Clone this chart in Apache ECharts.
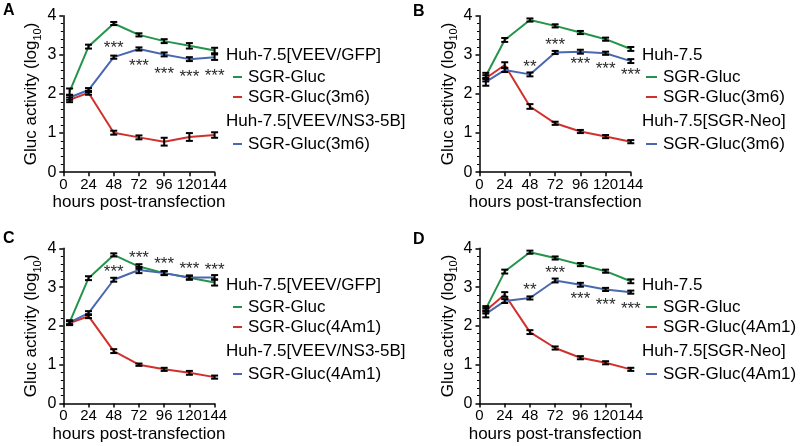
<!DOCTYPE html>
<html><head><meta charset="utf-8">
<script src="https://cdn.jsdelivr.net/npm/echarts@6/dist/echarts.min.js"></script>
<style>html,body{margin:0;padding:0;background:#fff}#c{width:800px;height:446px}</style>
</head><body><div id="c"></div>
<script>
// ---------- data ----------
const hours = [6, 24, 48, 72, 96, 120, 144];
const xTicks = [0, 24, 48, 72, 96, 120, 144];
const yTicks = [0, 1, 2, 3, 4];
const panelLetters = ['A', 'B', 'C', 'D'];
const xTitle = 'hours post-transfection';
const yTitle = ['Gluc activity (log', '10', ')'];

// Panel A
const A_green = [2.06, 3.21, 3.80, 3.51, 3.35, 3.23, 3.11];
const A_red   = [1.85, 2.03, 1.01, 0.89, 0.78, 0.90, 0.95];
const A_blue  = [1.91, 2.10, 2.94, 3.15, 3.01, 2.89, 2.94];
const A_greenErr = [0.08, 0.05, 0.04, 0.04, 0.05, 0.07, 0.07];
const A_redErr   = [0.06, 0.05, 0.05, 0.05, 0.10, 0.10, 0.07];
const A_blueErr  = [0.06, 0.05, 0.04, 0.04, 0.05, 0.05, 0.07];
const A_stars = [[48, 3.27, '***'], [72, 2.80, '***'], [96, 2.61, '***'], [120, 2.54, '***'], [144, 2.55, '***']];
const A_legend = ['Huh-7.5[VEEV/GFP]', 'SGR-Gluc', 'SGR-Gluc(3m6)', 'Huh-7.5[VEEV/NS3-5B]', 'SGR-Gluc(3m6)'];

// Panel B
const B_green = [2.46, 3.38, 3.89, 3.74, 3.57, 3.40, 3.15];
const B_red   = [2.40, 2.74, 1.68, 1.25, 1.04, 0.91, 0.78];
const B_blue  = [2.31, 2.61, 2.50, 3.06, 3.08, 3.04, 2.84];
const B_greenErr = [0.08, 0.05, 0.04, 0.04, 0.04, 0.04, 0.05];
const B_redErr   = [0.08, 0.07, 0.06, 0.04, 0.04, 0.04, 0.04];
const B_blueErr  = [0.10, 0.05, 0.05, 0.04, 0.05, 0.04, 0.05];
const B_stars = [[48, 2.78, '**'], [72, 3.34, '***'], [96, 2.87, '***'], [120, 2.74, '***'], [144, 2.57, '***']];
const B_legend = ['Huh-7.5', 'SGR-Gluc', 'SGR-Gluc(3m6)', 'Huh-7.5[SGR-Neo]', 'SGR-Gluc(3m6)'];

// Panel C
const C_green = [2.09, 3.23, 3.83, 3.53, 3.36, 3.24, 3.12];
const C_red   = [2.07, 2.25, 1.35, 1.00, 0.88, 0.79, 0.68];
const C_blue  = [2.09, 2.33, 3.19, 3.44, 3.36, 3.25, 3.25];
const C_greenErr = [0.05, 0.05, 0.04, 0.06, 0.05, 0.05, 0.08];
const C_redErr   = [0.05, 0.05, 0.05, 0.03, 0.04, 0.05, 0.04];
const C_blueErr  = [0.05, 0.05, 0.05, 0.08, 0.05, 0.05, 0.06];
const C_stars = [[48, 3.49, '***'], [72, 3.84, '***'], [96, 3.68, '***'], [120, 3.55, '***'], [144, 3.53, '***']];
const C_legend = ['Huh-7.5[VEEV/GFP]', 'SGR-Gluc', 'SGR-Gluc(4Am1)', 'Huh-7.5[VEEV/NS3-5B]', 'SGR-Gluc(4Am1)'];

// Panel D
const D_green = [2.44, 3.40, 3.90, 3.75, 3.58, 3.41, 3.15];
const D_red   = [2.39, 2.81, 1.84, 1.43, 1.18, 1.05, 0.88];
const D_blue  = [2.31, 2.64, 2.72, 3.17, 3.06, 2.94, 2.87];
const D_greenErr = [0.07, 0.05, 0.04, 0.04, 0.04, 0.04, 0.05];
const D_redErr   = [0.07, 0.06, 0.05, 0.04, 0.04, 0.04, 0.04];
const D_blueErr  = [0.09, 0.05, 0.04, 0.05, 0.05, 0.04, 0.04];
const D_stars = [[48, 3.01, '**'], [72, 3.45, '***'], [96, 2.80, '***'], [120, 2.63, '***'], [144, 2.54, '***']];
const D_legend = ['Huh-7.5', 'SGR-Gluc', 'SGR-Gluc(4Am1)', 'Huh-7.5[SGR-Neo]', 'SGR-Gluc(4Am1)'];

// ---------- styles / layout ----------
const FONT = '"Liberation Sans", Arial, Helvetica, sans-serif';
const GREEN = '#23944a', RED = '#d0312d', BLUE = '#4a68b0';
const panels = [
  { g: A_green, r: A_red, b: A_blue, ge: A_greenErr, re: A_redErr, be: A_blueErr, stars: A_stars, legend: A_legend,
    left: 63.3, top: 15.7, height: 156.5, lx: 226, dash: [233, 242], tx: 248, ly: 0, letter: [3, 11] },
  { g: B_green, r: B_red, b: B_blue, ge: B_greenErr, re: B_redErr, be: B_blueErr, stars: B_stars, legend: B_legend,
    left: 479.5, top: 15.7, height: 156.5, lx: 642, dash: [646, 657], tx: 663, ly: 0, letter: [413, 12] },
  { g: C_green, r: C_red, b: C_blue, ge: C_greenErr, re: C_redErr, be: C_blueErr, stars: C_stars, legend: C_legend,
    left: 63.3, top: 248.3, height: 155.2, lx: 226, dash: [233, 242], tx: 248, ly: 230, letter: [3, 239] },
  { g: D_green, r: D_red, b: D_blue, ge: D_greenErr, re: D_redErr, be: D_blueErr, stars: D_stars, legend: D_legend,
    left: 479.5, top: 248.3, height: 155.2, lx: 642, dash: [646, 657], tx: 663, ly: 230, letter: [413, 240] }
];
const PW = 151.3;
const legendRows = [55, 77, 97, 121, 144];
const legendColors = [null, GREEN, RED, null, BLUE];

const grid = [], xAxis = [], yAxis = [], series = [], graphic = [];

function errRender(params, api) {
  const x = api.value(0);
  const lo = api.coord([x, api.value(1)]);
  const hi = api.coord([x, api.value(2)]);
  const w = 3.5;
  const st = { stroke: '#000', lineWidth: 2 };
  return { type: 'group', children: [
    { type: 'line', shape: { x1: lo[0], y1: lo[1], x2: hi[0], y2: hi[1] }, style: st },
    { type: 'line', shape: { x1: lo[0] - w, y1: lo[1], x2: lo[0] + w, y2: lo[1] }, style: st },
    { type: 'line', shape: { x1: hi[0] - w, y1: hi[1], x2: hi[0] + w, y2: hi[1] }, style: st }
  ]};
}

panels.forEach((p, i) => {
  grid.push({ left: p.left, top: p.top, width: PW, height: p.height, outerBoundsMode: 'none', containLabel: false });
  xAxis.push({
    type: 'value', gridIndex: i, min: xTicks[0], max: xTicks[xTicks.length - 1], interval: xTicks[1] - xTicks[0],
    axisLine: { lineStyle: { color: '#000', width: 1.5 } },
    axisTick: { length: 4, lineStyle: { color: '#000', width: 1.5 } },
    splitLine: { show: false },
    axisLabel: { color: '#000', fontSize: 15, fontFamily: FONT, margin: 5, showMaxLabel: true, showMinLabel: true, hideOverlap: false },
    name: xTitle, nameLocation: 'middle', nameGap: 22,
    nameTextStyle: { color: '#000', fontSize: 17, fontFamily: FONT }
  });
  yAxis.push({
    type: 'value', gridIndex: i, min: yTicks[0], max: yTicks[yTicks.length - 1], interval: 1,
    axisLine: { show: true, lineStyle: { color: '#000', width: 1.5 } },
    axisTick: { show: true, length: 4, lineStyle: { color: '#000', width: 1.5 } },
    minorTick: { show: true, splitNumber: 5, length: 2.5, lineStyle: { color: '#000', width: 1 } },
    splitLine: { show: false },
    axisLabel: { color: '#000', fontSize: 16, fontFamily: FONT, margin: 7 },
    name: '{a|' + yTitle[0] + '}{s|' + yTitle[1] + '}{a|' + yTitle[2] + '}',
    nameLocation: 'middle', nameRotate: 90, nameGap: 23,
    nameTextStyle: { color: '#000', fontFamily: FONT, rich: {
      a: { fontSize: 17, fontFamily: FONT, color: '#000', lineHeight: 20, verticalAlign: 'bottom' },
      s: { fontSize: 11, fontFamily: FONT, color: '#000', lineHeight: 20, verticalAlign: 'bottom', padding: [0, 0, -3, 0] }
    } }
  });
  [[p.g, GREEN], [p.r, RED], [p.b, BLUE]].forEach(([vals, col]) => {
    series.push({ type: 'line', xAxisIndex: i, yAxisIndex: i, data: hours.map((h, k) => [h, vals[k]]),
      symbol: 'none', lineStyle: { color: col, width: 2 }, itemStyle: { color: col }, z: 2, animation: false });
  });
  [[p.g, p.ge], [p.r, p.re], [p.b, p.be]].forEach(([vals, errs]) => {
    series.push({ type: 'custom', xAxisIndex: i, yAxisIndex: i, renderItem: errRender, z: 5, animation: false,
      encode: { x: 0, y: [1, 2] },
      data: hours.map((h, k) => [h, vals[k] - errs[k], vals[k] + errs[k]]) });
  });
  const starTexts = p.stars.map(s => s[2]);
  series.push({ type: 'custom', xAxisIndex: i, yAxisIndex: i, z: 6, animation: false,
    renderItem: (params, api) => {
      const c = api.coord([api.value(0), api.value(1)]);
      return { type: 'text', x: c[0], y: c[1] + 4, style: {
        text: starTexts[params.dataIndex], fill: '#2a2a2a', fontSize: 17, fontFamily: FONT, align: 'center', verticalAlign: 'middle' } };
    },
    encode: { x: 0, y: 1 },
    data: p.stars.map(s => [s[0], s[1]]) });

  // panel letter
  graphic.push({ type: 'text', left: p.letter[0], top: p.letter[1] - 8, style: {
    text: panelLetters[i], fontSize: 16, fontWeight: 'bold', fontFamily: FONT, fill: '#000' } });
  // legend
  p.legend.forEach((t, k) => {
    const y = legendRows[k] + p.ly;
    if (legendColors[k] === null) {
      graphic.push({ type: 'text', x: p.lx, y: y, style: { text: t, fontSize: 17, fontFamily: FONT, fill: '#000', verticalAlign: 'middle' } });
    } else {
      graphic.push({ type: 'line', shape: { x1: p.dash[0], y1: y, x2: p.dash[1], y2: y }, style: { stroke: legendColors[k], lineWidth: 2 } });
      graphic.push({ type: 'text', x: p.tx, y: y, style: { text: t, fontSize: 17, fontFamily: FONT, fill: '#000', verticalAlign: 'middle' } });
    }
  });
});

const chart = echarts.init(document.getElementById('c'), null, { renderer: 'canvas' });
chart.setOption({ backgroundColor: '#fff', animation: false, grid, xAxis, yAxis, series, graphic });
</script>
</body></html>
